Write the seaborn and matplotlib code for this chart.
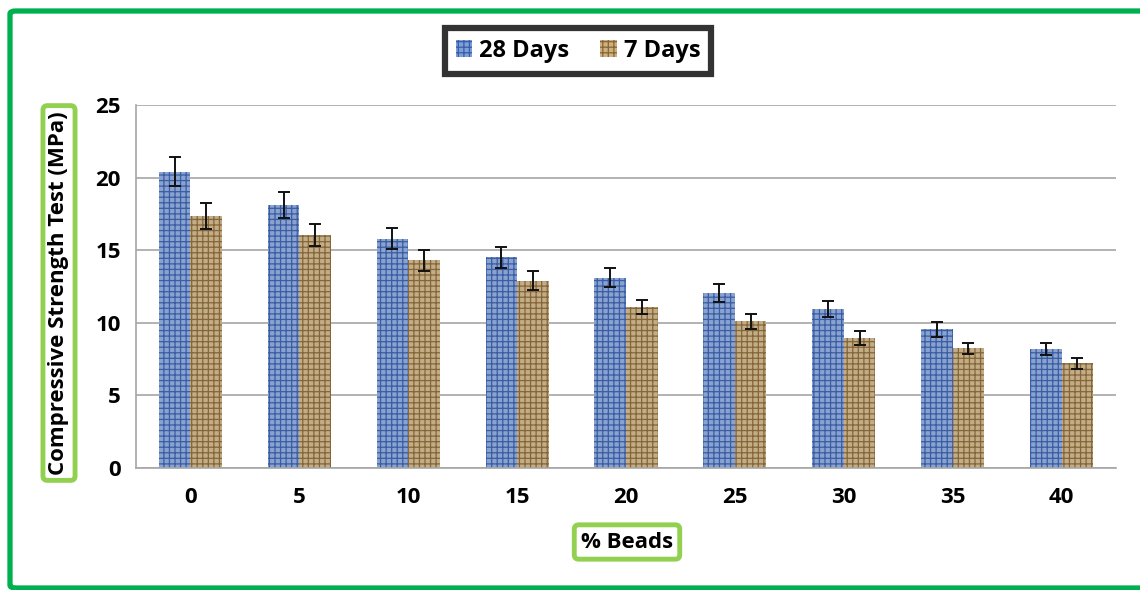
import numpy as np
import pandas as pd
import matplotlib.pyplot as plt
import seaborn as sns
from matplotlib.patches import FancyBboxPatch

# data
beads = ["0", "5", "10", "15", "20", "25", "30", "35", "40"]
days28 = [20.4, 18.1, 15.8, 14.5, 13.1, 12.05, 10.95, 9.55, 8.2]
days7 = [17.35, 16.05, 14.3, 12.9, 11.1, 10.1, 8.95, 8.25, 7.2]
err28 = [1.0, 0.9, 0.75, 0.7, 0.64, 0.6, 0.52, 0.5, 0.41]
err7 = [0.88, 0.75, 0.7, 0.64, 0.5, 0.5, 0.48, 0.39, 0.37]
series = ["28 Days", "7 Days"]

df = pd.DataFrame({
    "beads": beads * 2,
    "strength": days28 + days7,
    "age": [series[0]] * len(beads) + [series[1]] * len(beads),
})

sns.set_style("white")
plt.rcParams['font.family'] = ['Open Sans', 'DejaVu Sans']
plt.rcParams['hatch.linewidth'] = 0.9
plt.rcParams['text.color'] = 'black'

fig = plt.figure(figsize=(11.4, 5.9), dpi=100)
ax = fig.add_axes([136 / 1140, 122 / 590, 980 / 1140, 363 / 590])

colors = {"28 Days": "#7D9FDC", "7 Days": "#CDB07C"}
sns.barplot(data=df, x="beads", y="strength", hue="age", hue_order=series,
            palette=colors, width=0.58, errorbar=None, ax=ax,
            linewidth=0, legend=False)

hatch_cols = ["#3A5DA3", "#85663A"]
for cont, errs, hc in zip(ax.containers, [err28, err7], hatch_cols):
    xs = []
    ys = []
    for p in cont.patches:
        p.set_hatch("+++")
        p.set_edgecolor(hc)
        p.set_linewidth(0)
        xs.append(p.get_x() + p.get_width() / 2)
        ys.append(p.get_height())
    ax.errorbar(xs, ys, yerr=errs, fmt="none", ecolor="#111111",
                elinewidth=1.4, capsize=4, capthick=1.4, zorder=5)

ax.set_ylim(0, 25)
ax.set_yticks([0, 5, 10, 15, 20, 25])
ax.set_xlim(-0.5, len(beads) - 0.5)
ax.yaxis.grid(True, color="#A6A6A6", linewidth=1.2)
ax.set_axisbelow(True)
for s in ["top", "right"]:
    ax.spines[s].set_visible(False)
for s in ["left", "bottom"]:
    ax.spines[s].set_color("#A6A6A6")
    ax.spines[s].set_linewidth(1.2)

# x ticks between categories, labels centered
ax.set_xticks(np.arange(-0.5, len(beads)), minor=False)
ax.set_xticklabels([])
ax.set_xticks(np.arange(len(beads)), minor=True)
ax.set_xticklabels(beads, minor=True)
ax.tick_params(axis="x", which="major", length=8, color="#A6A6A6", width=1.2)
ax.tick_params(axis="x", which="minor", length=0, pad=14, labelcolor="black")
ax.tick_params(axis="y", length=7, color="#A6A6A6", width=1.2, pad=4,
               labelcolor="black")
for lab in ax.get_xticklabels(minor=True) + ax.get_yticklabels():
    lab.set_fontsize(16)
    lab.set_fontweight("bold")

ax.set_xlabel("")
ax.set_ylabel("")

# axis titles in green boxes
fig.text(59 / 1140, 297 / 590, "Compressive Strength Test (MPa)", rotation=90,
         ha="center", va="center", fontsize=16, fontweight="bold", color="black",
         bbox=dict(boxstyle="round,pad=0.25,rounding_size=0.2", fc="white",
                   ec="#92D050", lw=3.5))
fig.text(627 / 1140, 48 / 590, "% Beads", ha="center", va="center",
         fontsize=16, fontweight="bold", color="black",
         bbox=dict(boxstyle="round,pad=0.3,rounding_size=0.2", fc="white",
                   ec="#92D050", lw=3.5))

# legend
handles = [plt.Rectangle((0, 0), 1, 1, fc=colors[s], ec=hc, hatch="+++", lw=0)
           for s, hc in zip(series, hatch_cols)]
leg = fig.legend(handles, series, loc="center", bbox_to_anchor=(578 / 1140, 1 - 51 / 590),
                 ncol=2, frameon=True, fancybox=False, handlelength=0.7,
                 handleheight=0.7, handletextpad=0.3, columnspacing=1.3,
                 prop={"weight": "bold", "size": 17}, borderpad=0.45,
                 borderaxespad=0)
leg.get_frame().set_edgecolor("black")
leg.get_frame().set_linewidth(4.5)
for t in leg.get_texts():
    t.set_color("black")

# outer green frame
frame = FancyBboxPatch((10 / 1140, 2 / 590), 1.2, 577 / 590,
                       boxstyle="round,pad=0,rounding_size=0.005",
                       transform=fig.transFigure, fc="none", ec="#00B050",
                       lw=3.8, clip_on=False)
fig.patches.append(frame)

fig.savefig("out.png", dpi=100)
